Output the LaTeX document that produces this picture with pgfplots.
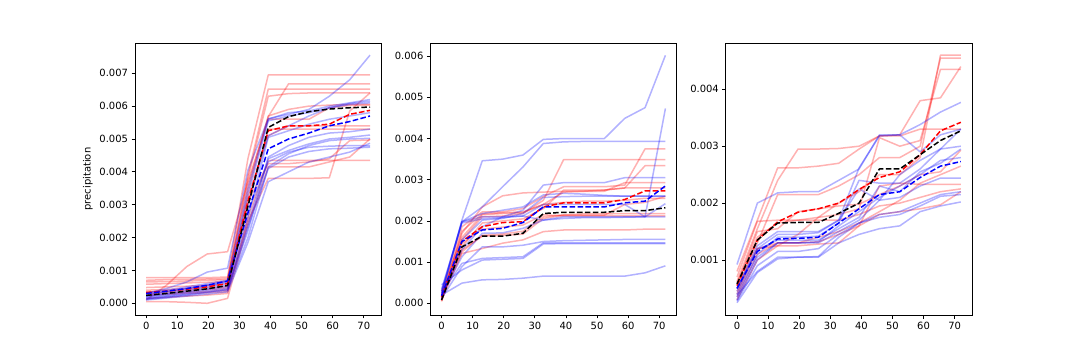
\documentclass[border=0pt]{standalone}
\usepackage{fontspec}
\setmainfont{DejaVu Sans}
\usepackage{pgfplots}
\usepackage{pgfplotstable}
\pgfplotsset{compat=1.18}

% panel 1
\pgfplotstableread{
x      r1      r2      r3      r4      r5      r6      r7      r8      r9      r10     r11     r12     b1      b2      b3      b4      b5      b6      b7      b8      b9      b10     b11     rm      bm      km
0      0.78e-3 0.70e-3 0.65e-3 0.58e-3 0.10e-3 0.48e-3 0.35e-3 0.15e-3 0.05e-3 0.25e-3 0.40e-3 0.30e-3 0.30e-3 0.25e-3 0.28e-3 0.22e-3 0.20e-3 0.18e-3 0.15e-3 0.12e-3 0.10e-3 0.14e-3 0.32e-3 0.33e-3 0.30e-3 0.24e-3
6.545  0.78e-3 0.72e-3 0.66e-3 0.60e-3 0.55e-3 0.50e-3 0.37e-3 0.18e-3 0.05e-3 0.27e-3 0.42e-3 0.32e-3 0.45e-3 0.35e-3 0.36e-3 0.30e-3 0.28e-3 0.25e-3 0.22e-3 0.18e-3 0.16e-3 0.20e-3 0.40e-3 0.37e-3 0.37e-3 0.30e-3
13.091 0.78e-3 0.73e-3 0.68e-3 0.62e-3 1.12e-3 0.52e-3 0.40e-3 0.22e-3 0.03e-3 0.30e-3 0.45e-3 0.34e-3 0.65e-3 0.45e-3 0.45e-3 0.40e-3 0.36e-3 0.33e-3 0.30e-3 0.25e-3 0.22e-3 0.27e-3 0.50e-3 0.43e-3 0.45e-3 0.37e-3
19.636 0.78e-3 0.74e-3 0.70e-3 0.64e-3 1.50e-3 0.55e-3 0.42e-3 0.25e-3 0.00e-3 0.32e-3 0.48e-3 0.36e-3 0.95e-3 0.55e-3 0.55e-3 0.50e-3 0.45e-3 0.42e-3 0.38e-3 0.33e-3 0.28e-3 0.34e-3 0.60e-3 0.50e-3 0.55e-3 0.44e-3
26.182 0.80e-3 0.75e-3 0.72e-3 0.66e-3 1.57e-3 0.58e-3 0.45e-3 0.30e-3 0.15e-3 0.35e-3 0.50e-3 0.40e-3 1.07e-3 0.68e-3 0.65e-3 0.62e-3 0.55e-3 0.50e-3 0.45e-3 0.40e-3 0.35e-3 0.42e-3 0.70e-3 0.60e-3 0.68e-3 0.54e-3
32.727 4.40e-3 3.60e-3 3.90e-3 3.80e-3 3.70e-3 3.20e-3 3.00e-3 2.60e-3 2.40e-3 2.50e-3 3.10e-3 3.40e-3 4.05e-3 3.50e-3 3.30e-3 3.00e-3 2.60e-3 2.40e-3 2.20e-3 2.00e-3 1.85e-3 2.30e-3 2.80e-3 3.10e-3 2.75e-3 2.95e-3
39.273 6.95e-3 5.68e-3 6.52e-3 6.30e-3 5.60e-3 5.10e-3 5.30e-3 4.35e-3 4.15e-3 3.80e-3 4.25e-3 5.70e-3 5.62e-3 5.60e-3 5.55e-3 5.10e-3 5.05e-3 4.45e-3 4.40e-3 4.15e-3 3.70e-3 4.10e-3 4.30e-3 5.25e-3 4.70e-3 5.35e-3
45.818 6.95e-3 6.68e-3 6.52e-3 6.38e-3 5.60e-3 5.40e-3 5.30e-3 4.35e-3 4.15e-3 3.80e-3 4.25e-3 5.90e-3 5.75e-3 5.80e-3 5.70e-3 5.40e-3 5.25e-3 4.80e-3 4.65e-3 4.55e-3 4.00e-3 4.45e-3 4.60e-3 5.40e-3 5.00e-3 5.68e-3
52.364 6.95e-3 6.68e-3 6.52e-3 6.40e-3 5.60e-3 5.40e-3 5.30e-3 4.35e-3 4.15e-3 3.80e-3 4.30e-3 6.00e-3 5.90e-3 5.85e-3 5.80e-3 5.70e-3 5.45e-3 5.05e-3 4.85e-3 4.80e-3 4.30e-3 4.62e-3 4.75e-3 5.40e-3 5.18e-3 5.83e-3
58.909 6.95e-3 6.68e-3 6.52e-3 6.40e-3 5.95e-3 5.40e-3 5.30e-3 4.35e-3 4.30e-3 3.82e-3 4.40e-3 6.03e-3 6.30e-3 6.00e-3 5.95e-3 5.95e-3 5.60e-3 5.18e-3 5.00e-3 4.95e-3 4.45e-3 4.70e-3 4.78e-3 5.45e-3 5.40e-3 5.91e-3
65.455 6.95e-3 6.68e-3 6.52e-3 6.40e-3 6.02e-3 5.40e-3 5.30e-3 4.35e-3 4.45e-3 5.85e-3 4.95e-3 6.05e-3 6.80e-3 6.10e-3 6.08e-3 6.05e-3 5.70e-3 5.22e-3 5.05e-3 5.00e-3 4.60e-3 4.72e-3 4.80e-3 5.75e-3 5.53e-3 5.95e-3
72     6.95e-3 6.68e-3 6.52e-3 6.40e-3 6.03e-3 5.40e-3 5.30e-3 4.35e-3 5.00e-3 6.40e-3 4.97e-3 6.05e-3 7.55e-3 6.20e-3 6.15e-3 6.10e-3 5.80e-3 5.30e-3 5.12e-3 5.02e-3 4.87e-3 4.75e-3 4.79e-3 5.87e-3 5.70e-3 5.97e-3
}\tA

% panel 2
\pgfplotstableread{
x      r1      r2      r3      r4      r5      r6      r7      r8      r9      r10     b1      b2      b3      b4      b5      b6      b7      b8      b9      b10     b11     b12     rm      bm      km
0      0.15e-3 0.05e-3 0.20e-3 0.10e-3 0.30e-3 0.05e-3 0.12e-3 0.25e-3 0.08e-3 0.18e-3 0.24e-3 0.20e-3 0.30e-3 0.15e-3 0.10e-3 0.35e-3 0.20e-3 0.12e-3 0.45e-3 0.25e-3 0.20e-3 0.28e-3 0.15e-3 0.18e-3 0.08e-3
6.545  1.86e-3 1.54e-3 1.37e-3 1.70e-3 1.60e-3 1.75e-3 1.25e-3 1.45e-3 1.21e-3 1.30e-3 2.02e-3 1.98e-3 1.98e-3 1.30e-3 1.54e-3 1.95e-3 1.13e-3 0.89e-3 0.81e-3 0.97e-3 0.49e-3 1.98e-3 1.50e-3 1.50e-3 1.37e-3
13.091 2.22e-3 2.10e-3 1.95e-3 2.34e-3 2.15e-3 2.17e-3 1.65e-3 1.80e-3 1.33e-3 1.63e-3 3.46e-3 2.34e-3 2.10e-3 1.86e-3 2.02e-3 2.05e-3 1.70e-3 1.37e-3 1.05e-3 1.09e-3 0.57e-3 2.18e-3 1.86e-3 1.78e-3 1.63e-3
19.636 2.22e-3 2.12e-3 2.00e-3 2.61e-3 2.18e-3 2.20e-3 1.68e-3 1.85e-3 1.46e-3 1.65e-3 3.50e-3 2.83e-3 2.10e-3 2.10e-3 2.06e-3 2.08e-3 1.71e-3 1.37e-3 1.07e-3 1.11e-3 0.58e-3 2.26e-3 1.96e-3 1.82e-3 1.63e-3
26.182 2.30e-3 2.18e-3 2.05e-3 2.68e-3 2.20e-3 2.22e-3 1.75e-3 1.90e-3 1.54e-3 1.68e-3 3.60e-3 3.31e-3 2.12e-3 2.26e-3 2.18e-3 2.12e-3 1.82e-3 1.41e-3 1.09e-3 1.13e-3 0.61e-3 2.34e-3 1.98e-3 1.96e-3 1.70e-3
32.727 2.59e-3 2.50e-3 2.30e-3 2.70e-3 2.40e-3 2.40e-3 2.10e-3 2.15e-3 1.74e-3 2.06e-3 3.98e-3 3.88e-3 2.02e-3 2.87e-3 2.57e-3 2.40e-3 2.02e-3 1.50e-3 1.44e-3 1.47e-3 0.66e-3 2.63e-3 2.34e-3 2.34e-3 2.18e-3
39.273 2.83e-3 3.49e-3 2.75e-3 2.72e-3 2.70e-3 2.45e-3 2.15e-3 2.12e-3 1.78e-3 2.14e-3 4.00e-3 3.92e-3 2.10e-3 2.93e-3 2.59e-3 2.40e-3 2.06e-3 1.52e-3 1.45e-3 1.47e-3 0.66e-3 2.67e-3 2.44e-3 2.34e-3 2.21e-3
45.818 2.83e-3 3.49e-3 2.75e-3 2.72e-3 2.72e-3 2.48e-3 2.17e-3 2.12e-3 1.78e-3 2.14e-3 4.00e-3 3.93e-3 2.10e-3 2.93e-3 2.60e-3 2.40e-3 2.08e-3 1.53e-3 1.45e-3 1.47e-3 0.66e-3 2.65e-3 2.44e-3 2.34e-3 2.21e-3
52.364 2.83e-3 3.49e-3 2.75e-3 2.72e-3 2.75e-3 2.48e-3 2.17e-3 2.12e-3 1.78e-3 2.14e-3 4.00e-3 3.93e-3 2.10e-3 2.93e-3 2.60e-3 2.40e-3 2.08e-3 1.54e-3 1.45e-3 1.47e-3 0.66e-3 2.62e-3 2.44e-3 2.34e-3 2.21e-3
58.909 2.87e-3 3.49e-3 2.80e-3 2.93e-3 2.80e-3 2.50e-3 2.18e-3 2.12e-3 1.78e-3 2.40e-3 4.49e-3 3.93e-3 2.10e-3 3.05e-3 2.60e-3 2.40e-3 2.09e-3 1.55e-3 1.45e-3 1.47e-3 0.66e-3 2.60e-3 2.52e-3 2.44e-3 2.25e-3
65.455 3.75e-3 3.49e-3 3.34e-3 2.93e-3 2.80e-3 2.55e-3 2.18e-3 2.12e-3 1.80e-3 2.45e-3 4.75e-3 3.93e-3 2.10e-3 3.05e-3 2.60e-3 2.10e-3 2.10e-3 1.55e-3 1.45e-3 1.47e-3 0.74e-3 2.60e-3 2.73e-3 2.48e-3 2.25e-3
72     3.75e-3 3.49e-3 3.34e-3 2.93e-3 2.80e-3 2.55e-3 2.18e-3 2.12e-3 1.80e-3 2.60e-3 6.02e-3 3.93e-3 4.73e-3 3.05e-3 2.60e-3 2.42e-3 2.10e-3 1.55e-3 1.45e-3 1.47e-3 0.91e-3 2.60e-3 2.73e-3 2.85e-3 2.32e-3
}\tB

% panel 3
\pgfplotstableread{
x      r1      r2      r3      r4      r5      r6      r7      r8      r9      r10     b1      b2      b3      b4      b5      b6      b7      b8      b9      b10     rm      bm      km
0      0.62e-3 0.80e-3 0.50e-3 0.45e-3 0.70e-3 0.55e-3 0.35e-3 0.40e-3 0.30e-3 0.60e-3 0.92e-3 0.50e-3 0.40e-3 0.45e-3 0.35e-3 0.30e-3 0.28e-3 0.38e-3 0.25e-3 0.50e-3 0.55e-3 0.50e-3 0.58e-3
6.545  1.55e-3 1.70e-3 1.30e-3 1.20e-3 1.68e-3 1.50e-3 1.10e-3 1.20e-3 1.00e-3 1.40e-3 2.00e-3 1.20e-3 1.10e-3 1.18e-3 1.05e-3 1.00e-3 0.90e-3 0.80e-3 0.78e-3 1.25e-3 1.35e-3 1.15e-3 1.35e-3
13.091 2.40e-3 2.62e-3 2.15e-3 1.25e-3 1.70e-3 1.55e-3 1.30e-3 1.30e-3 1.25e-3 1.65e-3 2.18e-3 1.45e-3 1.40e-3 1.35e-3 1.30e-3 1.30e-3 1.15e-3 1.05e-3 1.02e-3 1.50e-3 1.67e-3 1.37e-3 1.65e-3
19.636 2.95e-3 2.62e-3 2.15e-3 1.45e-3 1.70e-3 1.85e-3 1.30e-3 1.30e-3 1.25e-3 1.70e-3 2.20e-3 1.45e-3 1.40e-3 1.35e-3 1.30e-3 1.30e-3 1.15e-3 1.05e-3 1.05e-3 1.50e-3 1.84e-3 1.38e-3 1.66e-3
26.182 2.95e-3 2.65e-3 2.15e-3 1.75e-3 1.75e-3 1.90e-3 1.40e-3 1.32e-3 1.28e-3 1.70e-3 2.20e-3 1.48e-3 1.42e-3 1.35e-3 1.32e-3 1.30e-3 1.20e-3 1.06e-3 1.05e-3 1.50e-3 1.90e-3 1.40e-3 1.66e-3
32.727 2.96e-3 2.70e-3 2.30e-3 2.00e-3 1.80e-3 1.95e-3 1.50e-3 1.45e-3 1.30e-3 1.70e-3 2.40e-3 1.70e-3 1.65e-3 1.55e-3 1.60e-3 1.50e-3 1.45e-3 1.40e-3 1.30e-3 1.70e-3 2.00e-3 1.65e-3 1.82e-3
39.273 3.00e-3 2.95e-3 2.50e-3 2.20e-3 1.90e-3 1.98e-3 1.65e-3 1.60e-3 1.60e-3 1.80e-3 2.60e-3 2.62e-3 2.40e-3 1.75e-3 1.85e-3 1.70e-3 1.65e-3 1.65e-3 1.45e-3 2.25e-3 2.24e-3 1.90e-3 2.00e-3
45.818 3.18e-3 3.18e-3 2.80e-3 2.50e-3 3.15e-3 2.15e-3 1.85e-3 2.30e-3 1.80e-3 1.95e-3 3.20e-3 3.18e-3 2.35e-3 2.30e-3 2.10e-3 2.05e-3 1.80e-3 1.75e-3 1.55e-3 2.05e-3 2.45e-3 2.15e-3 2.60e-3
52.364 3.20e-3 3.18e-3 2.80e-3 2.50e-3 3.00e-3 2.30e-3 2.05e-3 2.35e-3 1.85e-3 2.00e-3 3.20e-3 3.20e-3 2.35e-3 2.20e-3 2.30e-3 2.10e-3 1.85e-3 1.80e-3 1.60e-3 2.50e-3 2.55e-3 2.20e-3 2.60e-3
58.909 3.80e-3 3.30e-3 3.00e-3 2.80e-3 3.10e-3 2.50e-3 2.35e-3 2.33e-3 1.90e-3 2.10e-3 3.38e-3 2.90e-3 2.60e-3 2.55e-3 2.50e-3 2.30e-3 2.00e-3 1.95e-3 1.85e-3 2.75e-3 2.85e-3 2.45e-3 2.85e-3
65.455 3.85e-3 3.30e-3 4.55e-3 4.60e-3 4.35e-3 2.55e-3 2.50e-3 2.33e-3 1.97e-3 2.20e-3 3.60e-3 3.20e-3 2.95e-3 2.70e-3 2.75e-3 2.44e-3 2.15e-3 2.12e-3 1.95e-3 2.95e-3 3.27e-3 2.65e-3 3.10e-3
72     4.40e-3 3.30e-3 4.55e-3 4.60e-3 4.35e-3 2.93e-3 2.65e-3 2.33e-3 2.20e-3 2.25e-3 3.77e-3 3.30e-3 3.00e-3 2.95e-3 2.80e-3 2.44e-3 2.20e-3 2.15e-3 2.02e-3 3.30e-3 3.42e-3 2.73e-3 3.27e-3
}\tC

\pgfplotsset{
  panel/.style={
    scale only axis, width=246.2bp, height=272bp, anchor=south west,
    xmin=-3.6, xmax=75.6, xtick={0,10,...,70},
    tick align=outside, tick pos=left, major tick length=3.5bp,
    every tick/.style={line width=0.8bp, black},
    axis line style={line width=0.8bp},
    tick label style={font=\fontsize{10}{12}\selectfont},
    label style={font=\fontsize{10}{12}\selectfont},
    /pgf/number format/assume math mode=true,
    scaled y ticks=false,
    yticklabel style={/pgf/number format/fixed, /pgf/number format/fixed zerofill, /pgf/number format/precision=3},
    xticklabel style={/pgf/number format/fixed},
    every axis plot/.append style={line width=1.5bp, line join=round},
  },
  redl/.style={red, draw opacity=0.3, no markers},
  bluel/.style={blue, draw opacity=0.3, no markers},
  dsh/.style={no markers, dash pattern=on 5.55bp off 2.4bp},
}

\begin{document}
\begin{tikzpicture}
\path[use as bounding box] (0,0) rectangle (1080bp,360bp);

\begin{axis}[panel, at={(135bp,45bp)}, ymin=-0.000356, ymax=0.00792,
  ytick={0,0.001,...,0.0071}, ylabel={precipitation}]
\pgfplotsinvokeforeach{r1,r2,r3,r4,r5,r6,r7,r8,r9,r10,r11,r12}{\addplot[redl] table[x=x,y=#1]{\tA};}
\pgfplotsinvokeforeach{b1,b2,b3,b4,b5,b6,b7,b8,b9,b10,b11}{\addplot[bluel] table[x=x,y=#1]{\tA};}
\addplot[dsh, red] table[x=x,y=rm]{\tA};
\addplot[dsh, blue] table[x=x,y=bm]{\tA};
\addplot[dsh, black] table[x=x,y=km]{\tA};
\end{axis}

\begin{axis}[panel, at={(430.4bp,45bp)}, ymin=-0.000284, ymax=0.00632,
  ytick={0,0.001,...,0.0061}]
\pgfplotsinvokeforeach{r1,r2,r3,r4,r5,r6,r7,r8,r9,r10}{\addplot[redl] table[x=x,y=#1]{\tB};}
\pgfplotsinvokeforeach{b1,b2,b3,b4,b5,b6,b7,b8,b9,b10,b11,b12}{\addplot[bluel] table[x=x,y=#1]{\tB};}
\addplot[dsh, red] table[x=x,y=rm]{\tB};
\addplot[dsh, blue] table[x=x,y=bm]{\tB};
\addplot[dsh, black] table[x=x,y=km]{\tB};
\end{axis}

\begin{axis}[panel, at={(725.8bp,45bp)}, ymin=0.0000334, ymax=0.004814,
  ytick={0.001,0.002,0.003,0.004}]
\pgfplotsinvokeforeach{r1,r2,r3,r4,r5,r6,r7,r8,r9,r10}{\addplot[redl] table[x=x,y=#1]{\tC};}
\pgfplotsinvokeforeach{b1,b2,b3,b4,b5,b6,b7,b8,b9,b10}{\addplot[bluel] table[x=x,y=#1]{\tC};}
\addplot[dsh, red] table[x=x,y=rm]{\tC};
\addplot[dsh, black] table[x=x,y=km]{\tC};
\addplot[dsh, blue] table[x=x,y=bm]{\tC};
\end{axis}
\end{tikzpicture}
\end{document}
